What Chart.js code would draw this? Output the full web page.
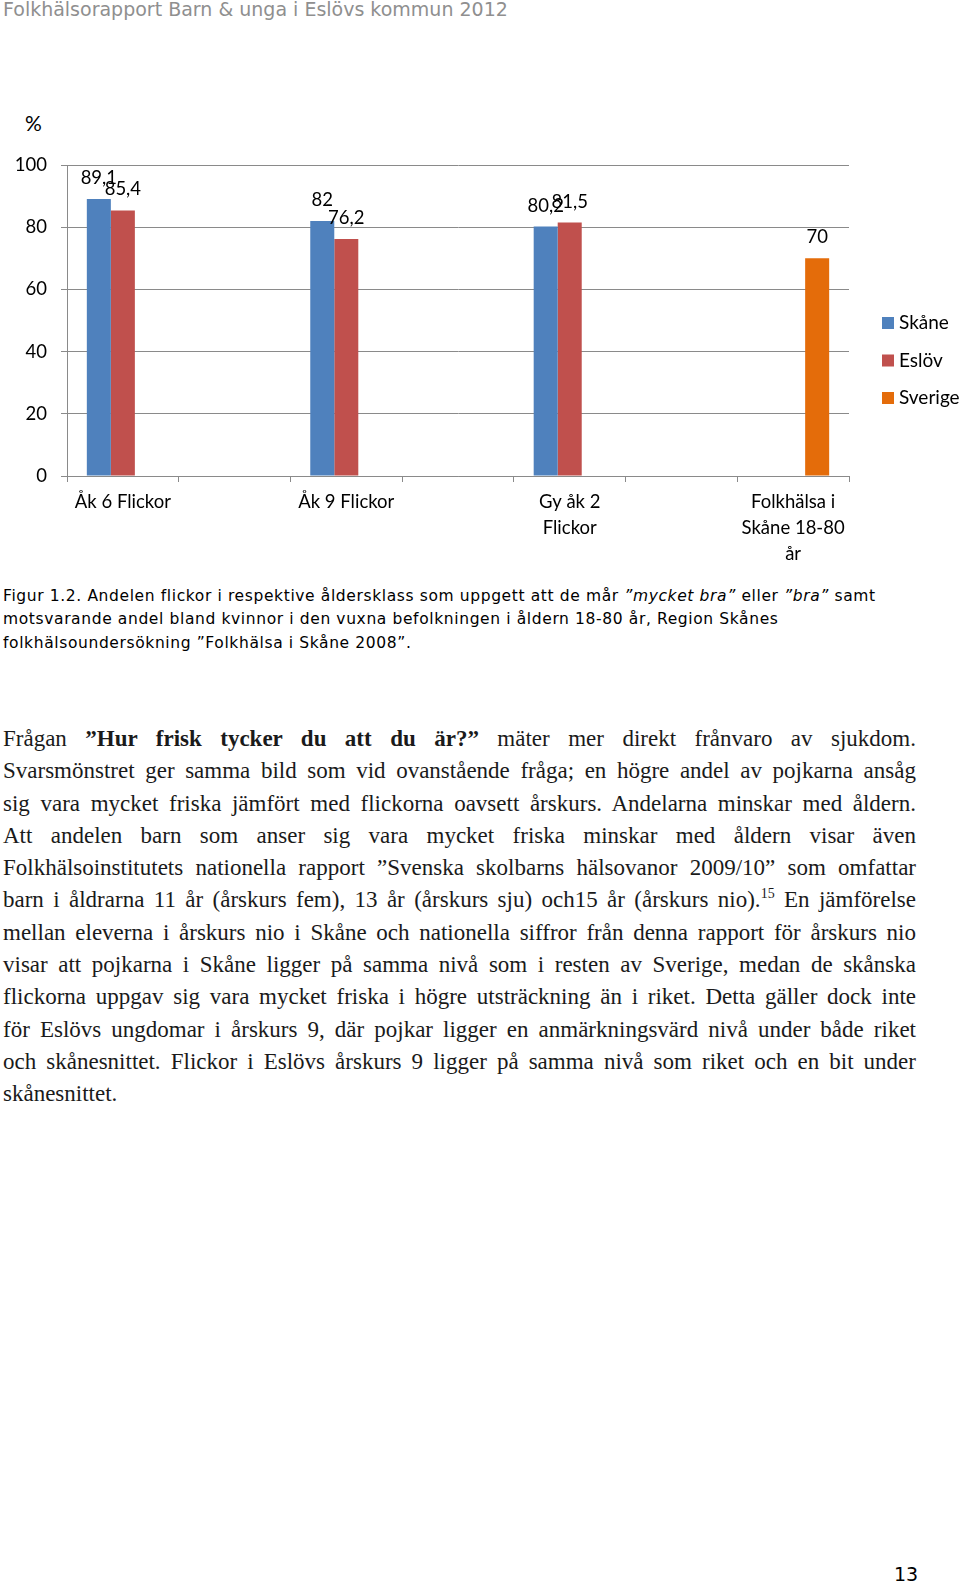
<!DOCTYPE html>
<html lang="sv">
<head>
<meta charset="utf-8">
<title>Folkhälsorapport Barn &amp; unga i Eslövs kommun 2012</title>
<script src="https://cdn.jsdelivr.net/npm/chart.js@4.4.1/dist/chart.umd.min.js"></script>
<style>
  html, body { margin: 0; padding: 0; background: #fff; }
  body { width: 960px; height: 1584px; position: relative; overflow: hidden; }
  .header { position: absolute; left: 3px; top: -2px; font: 19px "DejaVu Sans", Verdana, sans-serif; color: #8f8f8f; white-space: nowrap; }
  .pct { position: absolute; left: 25px; top: 110px; font: 21px Lato, sans-serif; color: #000; }
  #chart-wrap { position: absolute; left: 0; top: 100px; width: 960px; height: 480px; }
  .caption { position: absolute; left: 3px; top: 585px; font: 15.5px/23.3px "DejaVu Sans", Verdana, sans-serif; letter-spacing: 0.62px; color: #000; white-space: nowrap; }
  .body { position: absolute; left: 3px; top: 723px; width: 913px; font: 23px/32.3px "Liberation Serif", "Times New Roman", serif; color: #1a1a1a; }
  .body div { text-align: justify; text-align-last: justify; white-space: nowrap; }
  .body div.last { text-align-last: left; }
  .body sup { font-size: 14px; line-height: 0; }
  .pagenr { position: absolute; left: 894px; top: 1563px; font: 19px "DejaVu Sans", Verdana, sans-serif; color: #000; }
</style>
</head>
<body>
<div class="header">Folkhälsorapport Barn &amp; unga i Eslövs kommun 2012</div>
<div class="pct">%</div>
<div id="chart-wrap"><canvas id="chart" width="960" height="480"></canvas></div>

<div class="caption">Figur 1.2. Andelen flickor i respektive åldersklass som uppgett att de mår <i>”mycket bra”</i> eller <i>”bra”</i> samt<br>motsvarande andel bland kvinnor i den vuxna befolkningen i åldern 18-80 år, Region Skånes<br>folkhälsoundersökning ”Folkhälsa i Skåne 2008”.</div>

<div class="body">
  <div>Frågan <b>”Hur frisk tycker du att du är?”</b> mäter mer direkt frånvaro av sjukdom.</div>
  <div>Svarsmönstret ger samma bild som vid ovanstående fråga; en högre andel av pojkarna ansåg</div>
  <div>sig vara mycket friska jämfört med flickorna oavsett årskurs. Andelarna minskar med åldern.</div>
  <div>Att andelen barn som anser sig vara mycket friska minskar med åldern visar även</div>
  <div>Folkhälsoinstitutets nationella rapport ”Svenska skolbarns hälsovanor 2009/10” som omfattar</div>
  <div>barn i åldrarna 11 år (årskurs fem), 13 år (årskurs sju) och15 år (årskurs nio).<sup>15</sup> En jämförelse</div>
  <div>mellan eleverna i årskurs nio i Skåne och nationella siffror från denna rapport för årskurs nio</div>
  <div>visar att pojkarna i Skåne ligger på samma nivå som i resten av Sverige, medan de skånska</div>
  <div>flickorna uppgav sig vara mycket friska i högre utsträckning än i riket. Detta gäller dock inte</div>
  <div>för Eslövs ungdomar i årskurs 9, där pojkar ligger en anmärkningsvärd nivå under både riket</div>
  <div>och skånesnittet. Flickor i Eslövs årskurs 9 ligger på samma nivå som riket och en bit under</div>
  <div class="last">skånesnittet.</div>
</div>

<div class="pagenr">13</div>

<script>
'use strict';

// Kategorier (Excel-diagrammet har tomma kategorier mellan grupperna)
const kategorier = [
  ['Åk 6 Flickor'], '', ['Åk 9 Flickor'], '', ['Gy åk 2', 'Flickor'], '', ['Folkhälsa i', 'Skåne 18-80', 'år']
];
const skane   = [89.1, null, 82,   null, 80.2, null, null];
const eslov   = [85.4, null, 76.2, null, 81.5, null, null];
const sverige = [null, null, null, null, null, null, 70];
const yTicks = [0, 20, 40, 60, 80, 100];

const GRID = '#8a8a8a';
const FONT = 'Lato, "Open Sans", sans-serif';

// Värdeetiketter ovanför staplarna
const vardeEtiketter = {
  id: 'vardeEtiketter',
  afterDatasetsDraw(chart) {
    const ctx = chart.ctx;
    ctx.save();
    ctx.font = '18.5px ' + FONT;
    ctx.fillStyle = '#000';
    ctx.textAlign = 'center';
    ctx.textBaseline = 'middle';
    chart.data.datasets.forEach((ds, i) => {
      chart.getDatasetMeta(i).data.forEach((bar, j) => {
        const v = ds.data[j];
        if (v === null || v === undefined) return;
        ctx.fillText(String(v).replace('.', ','), bar.x, bar.y - 21);
      });
    });
    ctx.restore();
  }
};

// Förklaring till höger, som i Excel
const forklaring = {
  id: 'forklaring',
  afterDraw(chart) {
    const ctx = chart.ctx;
    ctx.save();
    ctx.font = '19px ' + FONT;
    ctx.textBaseline = 'middle';
    chart.data.datasets.forEach((ds, i) => {
      const y = 223 + i * 37.5;
      ctx.fillStyle = ds.backgroundColor;
      ctx.fillRect(882, y - 6, 12, 12);
      ctx.fillStyle = '#000';
      ctx.fillText(ds.label, 899, y);
    });
    ctx.restore();
  }
};

new Chart(document.getElementById('chart'), {
  type: 'bar',
  plugins: [vardeEtiketter, forklaring],
  data: {
    labels: kategorier,
    datasets: [
      { label: 'Skåne', data: skane, backgroundColor: '#4F81BD' },
      { label: 'Eslöv', data: eslov, backgroundColor: '#C0504D' },
      { label: 'Sverige', data: sverige, backgroundColor: '#E46C0A' }
    ]
  },
  options: {
    responsive: false,
    animation: false,
    events: [],
    layout: { padding: { top: 65, right: 111, left: 0, bottom: 0 } },
    datasets: { bar: { categoryPercentage: 0.645, barPercentage: 1 } },
    plugins: { legend: { display: false }, tooltip: { enabled: false } },
    scales: {
      x: {
        afterFit: s => { s.height = 104; },
        grid: { display: true, drawOnChartArea: false, drawTicks: true, tickLength: 6, color: GRID, offset: true },
        border: { display: true, color: GRID },
        ticks: { autoSkip: false, maxRotation: 0, padding: 7, color: '#000', font: { family: FONT, size: 18.5, lineHeight: 26 / 18.5 } }
      },
      y: {
        min: 0, max: 100,
        afterFit: s => { s.width = 67; },
        afterBuildTicks: s => { s.ticks = yTicks.map(v => ({ value: v })); },
        grid: { color: GRID, tickLength: 6 },
        border: { display: true, color: GRID },
        ticks: { padding: 14, color: '#000', font: { family: FONT, size: 18.5 } }
      }
    }
  }
});
</script>
</body>
</html>
